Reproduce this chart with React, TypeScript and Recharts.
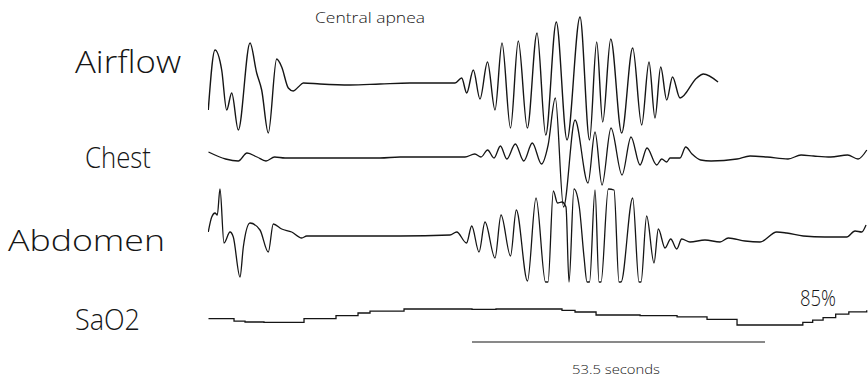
import React from "react";
import { LineChart, Line, XAxis, YAxis, ReferenceLine } from "recharts";

// time (s) from start of record, amplitude (arbitrary units, + = up)
const AIRFLOW_T = [0.05, 1.28, 2.5, 3.41, 4.33, 5.53, 7.67, 8.89, 9.8, 11.01, 12.54, 13.46, 14.66, 15.57, 16.49, 17.4, 20.45, 25.93, 31.4, 36.88, 42.36, 45.1, 46.32, 47.23, 48.44, 49.66, 51.03, 52.4, 53.68, 55.23, 56.65, 58.3, 60.07, 61.66, 63.59, 65.55, 67.92, 69.66, 70.97, 72.06, 73.53, 75.53, 77.54, 79.18, 80.52, 81.61, 82.65, 83.75, 84.81, 86.18, 89.23, 90.43, 93.12];
const AIRFLOW_V = [-26, 34, 14, -26, -9, -46, 41, 11, -6, -49, 25, 17, -4, -7, -3, 1, 0, -1, 0, 1, 1, 1, 6, -9, 14, -15, 22, -26, 41, -44, 43, -44, 51, -51, 62, -56, 67, -56, 42, -38, 45, -49, 36, -41, 22, -34, 17, -16, 7, -14, 6, 10, 2];

const CHEST_T = [0.09, 3.21, 5.53, 7.12, 8.95, 10.59, 12.16, 14.06, 20.45, 31.4, 35.06, 42.36, 46.92, 48.71, 49.84, 51.05, 52.22, 53.39, 54.56, 56.11, 57.66, 59.21, 60.89, 62.1, 63.41, 64.91, 67.01, 69.38, 70.66, 71.94, 73.58, 75.59, 77.23, 78.88, 80.15, 81.92, 82.84, 83.75, 84.36, 86.18, 87.22, 88.37, 89.94, 91.84, 96.59, 98.96, 102.07, 105.9, 108.28, 110.56, 113.68, 116.78, 118.68, 120.28];
const CHEST_V = [6, -1, -3, 5, 1, -3, 1, 0, 0, 0, 1, 1, 1, 4, 1, 8, 0, 12, -1, 14, -3, 15, -6, 13, 60, -49, 38, -25, 26, -27, 30, -17, 21, -7, 10, -7, -1, -4, 0, 0, 11, 4, -2, -3, -1, 2, 1, -1, 3, 2, 1, 3, -1, 8];

const ABDOMEN_T = [0.05, 0.68, 1.28, 1.7, 2.19, 2.92, 4.02, 4.62, 5.84, 6.45, 7.67, 9.49, 11.01, 11.92, 13.46, 15.28, 17.11, 18.02, 25.93, 35.06, 44.18, 45.41, 47.2, 48.15, 49.48, 50.57, 52.4, 53.5, 55.23, 56.29, 58.33, 59.89, 61.62, 62.08, 63.05, 63.81, 64.63, 65.36, 65.91, 66.82, 67.79, 68.65, 69.2, 69.66, 70.66, 71.39, 71.76, 73.09, 74.13, 75.04, 75.41, 77.54, 78.69, 79.06, 80.09, 81.43, 82.22, 83.44, 84.48, 85.58, 86.49, 88.0, 90.74, 93.48, 95.0, 98.05, 100.79, 103.83, 105.66, 108.69, 112.65, 116.61, 118.13, 119.35, 120.14];
const ABDOMEN_V = [4, 19, 23, 21, 47, -7, 4, -1, -41, -11, 13, 6, -16, 12, 7, 4, -2, 0, 0, 0, 1, 4, -7, 10, -16, 14, -22, 21, -20, 26, -45, 38, -46, -46, 45, 33, 34, 29, -46, 47, 29, -21, -46, -46, 46, -46, -46, 47, 46, -46, -46, 38, -46, -46, 20, -27, 7, -12, -3, -13, -3, -6, -4, -6, -2, -5, -6, 4, 3, 0, -1, -1, 5, 4, 11];

// SaO2 (%)
const SAO2_T = [0.09, 4.75, 6.76, 10.22, 17.53, 23.37, 27.39, 29.58, 35.79, 48.2, 52.58, 64.63, 67.01, 70.85, 78.88, 85.64, 91.11, 96.59, 108.6, 110.4, 112.3, 114.6, 117.0, 120.27];
const SAO2_V = [88.2, 86.9, 86.5, 86.3, 88.2, 89.7, 91.0, 91.9, 93.0, 92.8, 93.0, 92.3, 91.5, 90.0, 89.7, 89.1, 87.8, 85.0, 86.3, 87.4, 88.7, 90.4, 91.6, 92.4];

const SCALE_BAR_START = 48.2;
const SCALE_BAR_SECONDS = 53.5;
const SCALE_BAR_LEVEL = 76.5;

const TRACE_LABELS = ["Airflow", "Chest", "Abdomen", "SaO2"];
const TITLE = "Central apnea";
const MIN_LABEL = "85%";
const BAR_LABEL = `${SCALE_BAR_SECONDS} seconds`;

const zip = (t: number[], v: number[]) => t.map((x, i) => ({ t: x, v: v[i] }));

const airflow = zip(AIRFLOW_T, AIRFLOW_V);
const chest = zip(CHEST_T, CHEST_V);
const abdomen = zip(ABDOMEN_T, ABDOMEN_V);
const sao2 = zip(SAO2_T, SAO2_V);

const INK = "#151515";
const FONT = "'Open Sans', 'Liberation Sans', Arial, sans-serif";

export default function App() {
  return (
    <div style={{ position: "absolute", left: 0, top: 0, width: 868, height: 381, background: "#fff" }}>
      <LineChart width={868} height={381} margin={{ top: 0, right: 0, bottom: 0, left: 208 }}>
        <XAxis type="number" dataKey="t" domain={[0, 120.5]} hide allowDataOverflow />
        <YAxis yAxisId="airflow" type="number" domain={[-297, 84]} hide allowDataOverflow />
        <YAxis yAxisId="chest" type="number" domain={[-223, 158]} hide allowDataOverflow />
        <YAxis yAxisId="abdomen" type="number" domain={[-145, 236]} hide allowDataOverflow />
        <YAxis yAxisId="sao2" type="number" domain={[57, 247.5]} hide allowDataOverflow />
        <Line yAxisId="airflow" data={airflow} dataKey="v" type="monotone" stroke={INK} strokeWidth={1.4} dot={false} isAnimationActive={false} />
        <Line yAxisId="chest" data={chest} dataKey="v" type="monotone" stroke={INK} strokeWidth={1.3} dot={false} isAnimationActive={false} />
        <Line yAxisId="abdomen" data={abdomen} dataKey="v" type="monotone" stroke={INK} strokeWidth={1.3} dot={false} isAnimationActive={false} />
        <Line yAxisId="sao2" data={sao2} dataKey="v" type="stepAfter" stroke={INK} strokeWidth={1.3} dot={false} isAnimationActive={false} />
        <ReferenceLine
          yAxisId="sao2"
          segment={[
            { x: SCALE_BAR_START, y: SCALE_BAR_LEVEL },
            { x: SCALE_BAR_START + SCALE_BAR_SECONDS, y: SCALE_BAR_LEVEL },
          ]}
          stroke={INK}
          strokeWidth={1.2}
          ifOverflow="visible"
        />
      </LineChart>
      <svg width={868} height={381} style={{ position: "absolute", left: 0, top: 0, pointerEvents: "none" }} fontFamily={FONT} fontWeight={300} fill={INK}>
        <text x={315} y={23} fontSize={15} textLength={110} lengthAdjust="spacingAndGlyphs">{TITLE}</text>
        <text x={75} y={73} fontSize={31} textLength={106} lengthAdjust="spacingAndGlyphs">{TRACE_LABELS[0]}</text>
        <text x={85} y={168} fontSize={29} textLength={66} lengthAdjust="spacingAndGlyphs">{TRACE_LABELS[1]}</text>
        <text x={8} y={251} fontSize={29} textLength={157} lengthAdjust="spacingAndGlyphs">{TRACE_LABELS[2]}</text>
        <text x={75} y={330} fontSize={29} textLength={65} lengthAdjust="spacingAndGlyphs">{TRACE_LABELS[3]}</text>
        <text x={800} y={306} fontSize={22} textLength={36} lengthAdjust="spacingAndGlyphs">{MIN_LABEL}</text>
        <text x={572} y={374} fontSize={13} textLength={88} lengthAdjust="spacingAndGlyphs">{BAR_LABEL}</text>
      </svg>
    </div>
  );
}
